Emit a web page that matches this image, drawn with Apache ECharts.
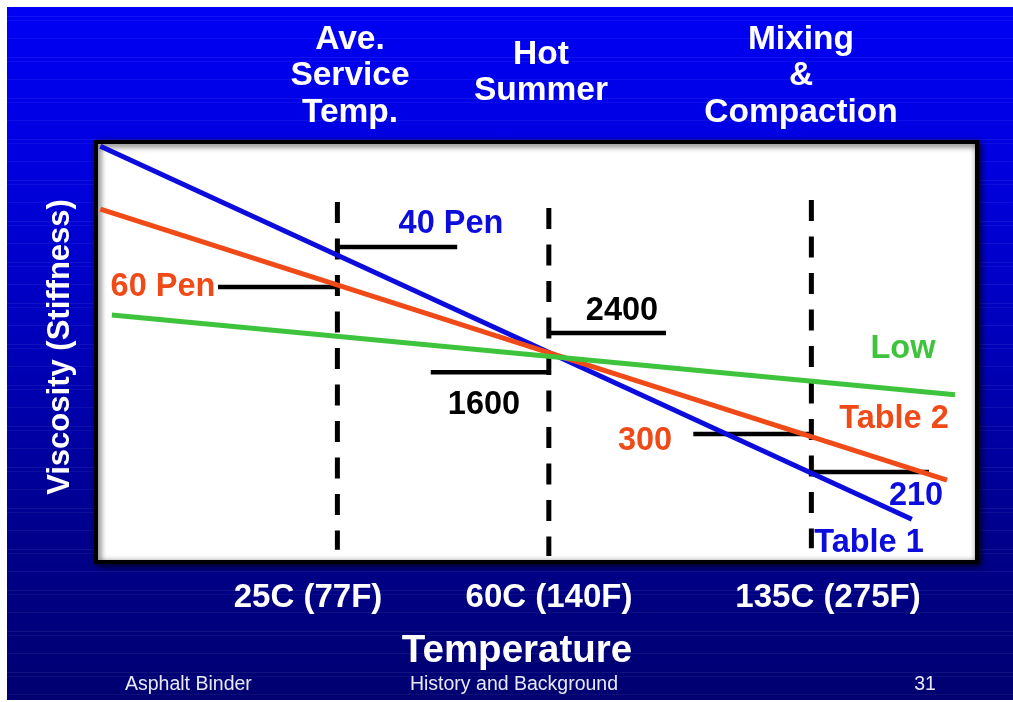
<!DOCTYPE html>
<html>
<head>
<meta charset="utf-8">
<script src="https://cdn.jsdelivr.net/npm/echarts@6/dist/echarts.min.js"></script>
<style>
  html, body { margin: 0; padding: 0; background: #ffffff; }
  #slide {
    position: absolute; left: 7px; top: 7px; width: 1006px; height: 693px;
    background:
      repeating-linear-gradient(180deg,
        rgba(255,255,255,0.00) 0px, rgba(255,255,255,0.00) 9px,
        rgba(255,255,255,0.07) 9px, rgba(255,255,255,0.07) 10px,
        rgba(255,255,255,0.00) 10px, rgba(255,255,255,0.00) 13px,
        rgba(255,255,255,0.05) 13px, rgba(255,255,255,0.05) 14px,
        rgba(255,255,255,0.00) 14px, rgba(255,255,255,0.00) 31px,
        rgba(255,255,255,0.06) 31px, rgba(255,255,255,0.06) 32px,
        rgba(255,255,255,0.00) 32px, rgba(255,255,255,0.00) 41px),
      linear-gradient(180deg, #0000f4 0%, #0000e0 22%, #0000b8 50%, #00008e 75%, #000070 100%);
  }
  #chart { position: absolute; left: 0; top: 0; width: 1013px; height: 702px; }
</style>
</head>
<body>
<div id="slide"></div>
<div id="chart"></div>
<script>
// Conceptual scales: horizontal position across the temperature range,
// vertical position up the viscosity (stiffness) range, both 0–100.
const xRange = [0, 100];
const yRange = [0, 100];

// Binder grading lines, [position, viscosity] at each end
const table1Line = [[0.5, 99.0], [92.6, 10.2]];
const table2Line = [[0.5, 84.0], [96.6, 19.5]];
const lowLine    = [[1.8, 58.8], [97.5, 39.8]];

// Reference temperatures and the span of their dashed markers
const tempLabels = ['25C (77F)', '60C (140F)', '135C (275F)'];
const tempX      = [27.4, 51.4, 81.2];
const tempTop    = [85.7, 84.3, 86.2];
const tempBottom = [2.9, 1.4, 3.3];

// Specification level ticks
const specLabels = ['40 Pen', '60 Pen', '2400', '1600', '300', '210'];
const specY      = [75.0, 65.5, 54.5, 45.2, 30.5, 21.4];
const specFrom   = [27.4, 13.85, 51.4, 38.0, 67.8, 81.2];
const specTo     = [41.0, 27.4, 64.7, 51.4, 81.2, 94.55];

// Line names shown beside each line
const lineLabels = ['Table 1', 'Table 2', 'Low'];

const BLUE = '#0c0cdc';
const RED = '#f04a18';
const GREEN = '#3ec43c';
const FONT = '"Liberation Sans", Arial, sans-serif';

const series = [];

// dashed reference-temperature markers
tempX.forEach((x, i) => {
  series.push({
    type: 'line', name: tempLabels[i], silent: true, symbol: 'none', z: 2,
    data: [[x, tempTop[i]], [x, tempBottom[i]]],
    lineStyle: { color: '#000', width: 5, type: [21, 15.5], cap: 'butt' }
  });
});

// spec level ticks
specY.forEach((y, i) => {
  series.push({
    type: 'line', name: specLabels[i], silent: true, symbol: 'none', z: 3,
    data: [[specFrom[i], y], [specTo[i], y]],
    lineStyle: { color: '#000', width: 4.5, cap: 'butt' }
  });
});

// grading lines
[[table1Line, BLUE], [table2Line, RED], [lowLine, GREEN]].forEach(([d, c], i) => {
  series.push({
    type: 'line', name: lineLabels[i], silent: true, symbol: 'none', z: 4 + i,
    data: d,
    lineStyle: { color: c, width: 5, cap: 'butt' }
  });
});

function txt(text, x, y, size, color, opts) {
  return Object.assign({
    type: 'text', x: x, y: y, silent: true, z: 20,
    style: {
      text: text, fill: color, align: 'center', verticalAlign: 'middle',
      font: 'bold ' + size + 'px ' + FONT
    }
  }, opts || {});
}

function plain(text, x, y, align) {
  return {
    type: 'text', x: x, y: y, silent: true, z: 20,
    style: { text: text, fill: '#e8e8f8', align: align, verticalAlign: 'middle', font: '19.5px ' + FONT }
  };
}

const graphics = [
  // column headings
  txt('Ave.\nService\nTemp.', 350, 76, 33.5, '#fff'),
  txt('Hot\nSummer', 541, 73, 33.5, '#fff'),
  txt('Mixing\n&\nCompaction', 801, 76, 33.5, '#fff'),
  // temperature labels under the frame
  txt(tempLabels[0], 308, 598, 33, '#fff'),
  txt(tempLabels[1], 549, 598, 33, '#fff'),
  txt(tempLabels[2], 828, 598, 33, '#fff'),
  // axis titles
  txt('Temperature', 517, 651, 38.5, '#fff'),
  txt('Viscosity (Stiffness)', 60, 347, 31, '#fff', { rotation: Math.PI / 2 }),
  // spec tick labels
  txt(specLabels[0], 451, 224, 32.5, BLUE),
  txt(specLabels[1], 163, 287, 32.5, RED),
  txt(specLabels[2], 622, 311, 32.5, '#000'),
  txt(specLabels[3], 484, 405, 32.5, '#000'),
  txt(specLabels[4], 645, 441, 32.5, RED),
  txt(specLabels[5], 916, 496, 32.5, BLUE),
  // line names
  txt(lineLabels[2], 903, 349, 32.5, GREEN),
  txt(lineLabels[1], 894, 419, 32.5, RED),
  txt(lineLabels[0], 869, 543, 32.5, BLUE),
  // footer
  plain('Asphalt Binder', 125, 685, 'left'),
  plain('History and Background', 514, 685, 'center'),
  plain('31', 925, 685, 'center')
];

graphics.forEach(g => { if (g.style && /\n/.test(g.style.text)) g.style.lineHeight = 36.5; });

const chart = echarts.init(document.getElementById('chart'), null, { renderer: 'canvas' });
chart.setOption({
  backgroundColor: 'transparent',
  animation: false,
  grid: {
    left: 96, right: 36, top: 142, bottom: 140,
    show: true, backgroundColor: '#ffffff', borderColor: '#000000', borderWidth: 4,
    shadowColor: 'rgba(0,0,0,0.75)', shadowBlur: 6, shadowOffsetX: 2, shadowOffsetY: 2
  },
  xAxis: { type: 'value', min: xRange[0], max: xRange[1], show: false },
  yAxis: { type: 'value', min: yRange[0], max: yRange[1], show: false },
  series: series,
  graphic: graphics
});
</script>
</body>
</html>
